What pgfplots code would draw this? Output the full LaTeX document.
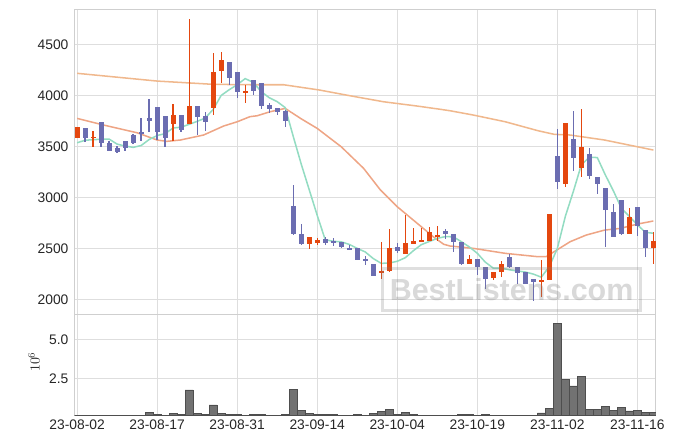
\documentclass[border=0pt]{standalone}
\usepackage{pgfplots}
\pgfplotsset{compat=1.18}
\usepackage{pgfplotstable}
\usepackage{fontspec}
\setmainfont{Liberation Sans}
\definecolor{upred}{HTML}{E4470F}
\definecolor{downblue}{HTML}{6B6DB1}
\definecolor{mafive}{HTML}{93DCC2}
\definecolor{matwenty}{HTML}{EEA585}
\definecolor{masixty}{HTML}{F0B88D}
\definecolor{gridgray}{HTML}{DEDEDE}
\definecolor{framegray}{HTML}{CFCFCF}
\definecolor{labelgray}{HTML}{262626}
\definecolor{volgray}{HTML}{727272}
\definecolor{voledge}{HTML}{4E4E4E}

\pgfplotstableread{
i o h l c
0 3584 3692 3582 3689
2 3580 3650 3490 3595
12 3716 3912 3552 3804
14 3722 4745 3720 3892
17 3879 4418 3807 4228
18 4241 4421 4118 4343
21 4025 4098 3922 4040
29 2539 2615 2493 2611
30 2555 2604 2529 2581
38 2255 2562 2196 2280
39 2275 2686 2270 2503
41 2444 2824 2440 2552
42 2545 2696 2543 2571
43 2565 2696 2563 2581
44 2575 2706 2573 2657
45 2615 2719 2575 2630
49 2346 2431 2343 2395
52 2206 2270 2186 2268
53 2265 2375 2222 2346
58 2176 2382 2023 2189
59 2192 2835 2190 2833
61 3133 3730 3098 3728
63 3290 3863 3196 3493
69 2643 2892 2640 2807
72 2506 2663 2343 2569
}\up

\pgfplotstableread{
i o h l c
1 3676 3680 3539 3584
3 3735 3740 3490 3529
4 3529 3550 3455 3457
5 3480 3500 3437 3447
6 3549 3555 3450 3486
7 3611 3620 3520 3529
8 3636 3776 3553 3620
9 3777 3961 3640 3751
10 3882 3885 3560 3643
11 3797 3800 3490 3584
13 3804 3810 3643 3657
15 3892 3900 3611 3790
16 3794 3833 3653 3741
19 4326 4330 4104 4173
20 4228 4230 3976 4035
22 4150 4155 4003 4045
23 4120 4125 3863 3898
24 3905 3922 3823 3869
25 3875 3880 3807 3839
26 3849 3855 3686 3751
27 2915 3118 2630 2637
28 2640 2738 2535 2539
31 2591 2608 2529 2555
32 2571 2598 2520 2557
33 2562 2565 2500 2516
34 2503 2529 2484 2486
35 2503 2505 2385 2388
36 2395 2427 2336 2378
37 2346 2348 2228 2231
40 2513 2555 2451 2474
46 2670 2686 2591 2637
47 2637 2640 2467 2562
48 2562 2565 2340 2346
50 2395 2400 2238 2320
51 2317 2320 2101 2202
54 2418 2444 2310 2314
55 2317 2320 2147 2261
56 2268 2270 2150 2153
57 2196 2200 1983 2167
60 3405 3670 3078 3147
62 3572 3843 3258 3388
64 3425 3486 3182 3212
65 3199 3200 3035 3127
66 3091 3095 2513 2878
67 2856 2931 2610 2614
68 2974 2975 2630 2640
70 2905 2910 2621 2719
71 2679 2682 2412 2506
}\down

\pgfplotstableread{
i v
0 0.02
1 0.02
2 0.02
3 0.02
4 0.02
5 0.02
6 0.02
7 0.02
8 0.02
9 0.30
10 0.15
11 0.03
12 0.23
13 0.15
14 1.74
15 0.23
16 0.15
17 0.76
18 0.23
19 0.15
20 0.15
21 0.03
22 0.13
23 0.13
24 0.03
25 0.03
26 0.13
27 1.80
28 0.43
29 0.23
30 0.13
31 0.13
32 0.13
33 0.03
34 0.03
35 0.13
36 0.03
37 0.20
38 0.35
39 0.48
40 0.13
41 0.30
42 0.13
43 0.03
44 0.03
45 0.03
46 0.03
47 0.03
48 0.13
49 0.13
50 0.03
51 0.13
52 0.03
53 0.03
54 0.03
55 0.03
56 0.03
57 0.03
58 0.25
59 0.55
60 6.08
61 2.43
62 2.00
63 2.65
64 0.48
65 0.48
66 0.69
67 0.43
68 0.60
69 0.37
70 0.43
71 0.30
72 0.30
}\vol

\pgfplotstableread{
i m
0 3535
1 3560
2 3565
3 3570
4 3571
5 3522
6 3503
7 3490
8 3508
9 3567
10 3606
11 3625
12 3680
13 3688
14 3716
15 3745
16 3777
17 3862
18 3999
19 4055
20 4104
21 4164
22 4127
23 4038
24 3977
25 3938
26 3880
27 3599
28 3327
29 3075
30 2824
31 2585
32 2569
33 2564
34 2539
35 2500
36 2465
37 2400
38 2353
39 2356
40 2373
41 2408
42 2476
43 2536
44 2567
45 2598
46 2615
47 2613
48 2566
49 2514
50 2452
51 2365
52 2306
53 2306
54 2290
55 2278
56 2268
57 2248
58 2217
59 2321
60 2498
61 2813
62 3057
63 3318
64 3394
65 3390
66 3220
67 3065
68 2894
69 2813
70 2732
71 2657
72 2648
}\mafivet

\pgfplotstableread{
i m
0 3774
3.3 3709
7.5 3633
10 3562
11.2 3549
12.9 3562
15.8 3611
18.3 3699
20 3741
21.6 3791
22.5 3800
24.1 3839
26 3872
28 3770
30 3676
33 3496
35.8 3284
37.9 3072
40 2908
42.5 2745
44.5 2614
45.8 2540
46.6 2523
49.5 2500
53.5 2451
57.6 2418
58.6 2418
59.6 2467
61.6 2565
63.6 2630
65.9 2679
67.9 2696
70 2738
72 2768
}\matwentyt

\pgfplotstableread{
i m
0 4216
10 4140
17 4108
21.6 4104
25.8 4104
30.3 4052
34.1 3996
38.3 3937
42.5 3895
45.4 3863
46.6 3849
49.5 3807
53.5 3741
57.6 3653
59.6 3618
61.6 3611
65.9 3562
70 3496
72 3464
}\masixtyt

\pgfplotsset{
  panel/.style={
    scale only axis,
    width=419.9pt,
    xmin=-0.3, xmax=72.3,
    xtick={0,10,...,70},
    grid=major,
    major grid style={draw=gridgray, line width=0.7pt},
    axis line style={draw=framegray, line width=0.7pt},
    major tick length=0pt,
    tick label style={font=\fontsize{10}{12}\selectfont, text=labelgray},
    /pgf/number format/assume math mode=true,
    /pgf/number format/1000 sep={},
  },
  candle/.style n args={2}{
    color=#1, draw=none, mark=none,
    error bars/.cd, y dir=both, y explicit, error mark=none,
    error bar style={solid, line width=#2, color=#1, draw=#1},
  },
}

\begin{document}
\begin{tikzpicture}
\path[use as bounding box] (0,0) rectangle (487.8pt,320.9pt);

\begin{axis}[panel,
  at={(53.99pt,93.73pt)}, anchor=south west,
  height=220.4pt,
  ymin=1853, ymax=4843,
  ytick={2000,2500,...,4500},
  xticklabels={},
  yticklabel style={xshift=-1pt},
]
\addplot[masixty, line width=1.1pt, mark=none] table[x=i,y=m] {\masixtyt};
\addplot[matwenty, line width=1.1pt, mark=none] table[x=i,y=m] {\matwentyt};
\addplot[mafive, line width=1.1pt, mark=none] table[x=i,y=m] {\mafivet};
% wicks
\addplot[candle={upred}{0.95pt}]
  table[x=i, y expr=(\thisrow{h}+\thisrow{l})/2, y error expr=(\thisrow{h}-\thisrow{l})/2] {\up};
\addplot[candle={downblue}{0.95pt}]
  table[x=i, y expr=(\thisrow{h}+\thisrow{l})/2, y error expr=(\thisrow{h}-\thisrow{l})/2] {\down};
% bodies
\addplot[candle={upred}{3.6pt}]
  table[x=i, y expr=(\thisrow{o}+\thisrow{c})/2, y error expr=abs(\thisrow{c}-\thisrow{o})/2] {\up};
\addplot[candle={downblue}{3.6pt}]
  table[x=i, y expr=(\thisrow{o}+\thisrow{c})/2, y error expr=abs(\thisrow{c}-\thisrow{o})/2] {\down};
\end{axis}

\begin{axis}[panel,
  at={(53.99pt,20.74pt)}, anchor=south west,
  height=72.99pt,
  ymin=0.085, ymax=6.67,
  ytick={2.5,5},
  yticklabel style={xshift=-1pt, /pgf/number format/.cd, fixed, fixed zerofill, precision=1},
  xticklabels={23-08-02,23-08-17,23-08-31,23-09-14,23-10-04,23-10-19,23-11-02,23-11-16},
  ylabel={$10^{6}$},
  ylabel style={at={(axis description cs:-0.07,0.53)}, anchor=center, text=labelgray, font=\fontsize{10}{12}\selectfont},
]
\addplot[ybar, bar width=5.78pt, fill=volgray, draw=voledge, line width=0.4pt] table[x=i,y=v] {\vol};
\end{axis}

% watermark
\draw[gray, opacity=0.25, line width=2.2pt] (276.1pt,96.8pt) rectangle (463.2pt,127.2pt);
\node[text=gray, opacity=0.3, font=\bfseries\fontsize{22}{24}\selectfont, inner sep=0pt] at (369.7pt,111.5pt) {BestListens.com};
\end{tikzpicture}
\end{document}
